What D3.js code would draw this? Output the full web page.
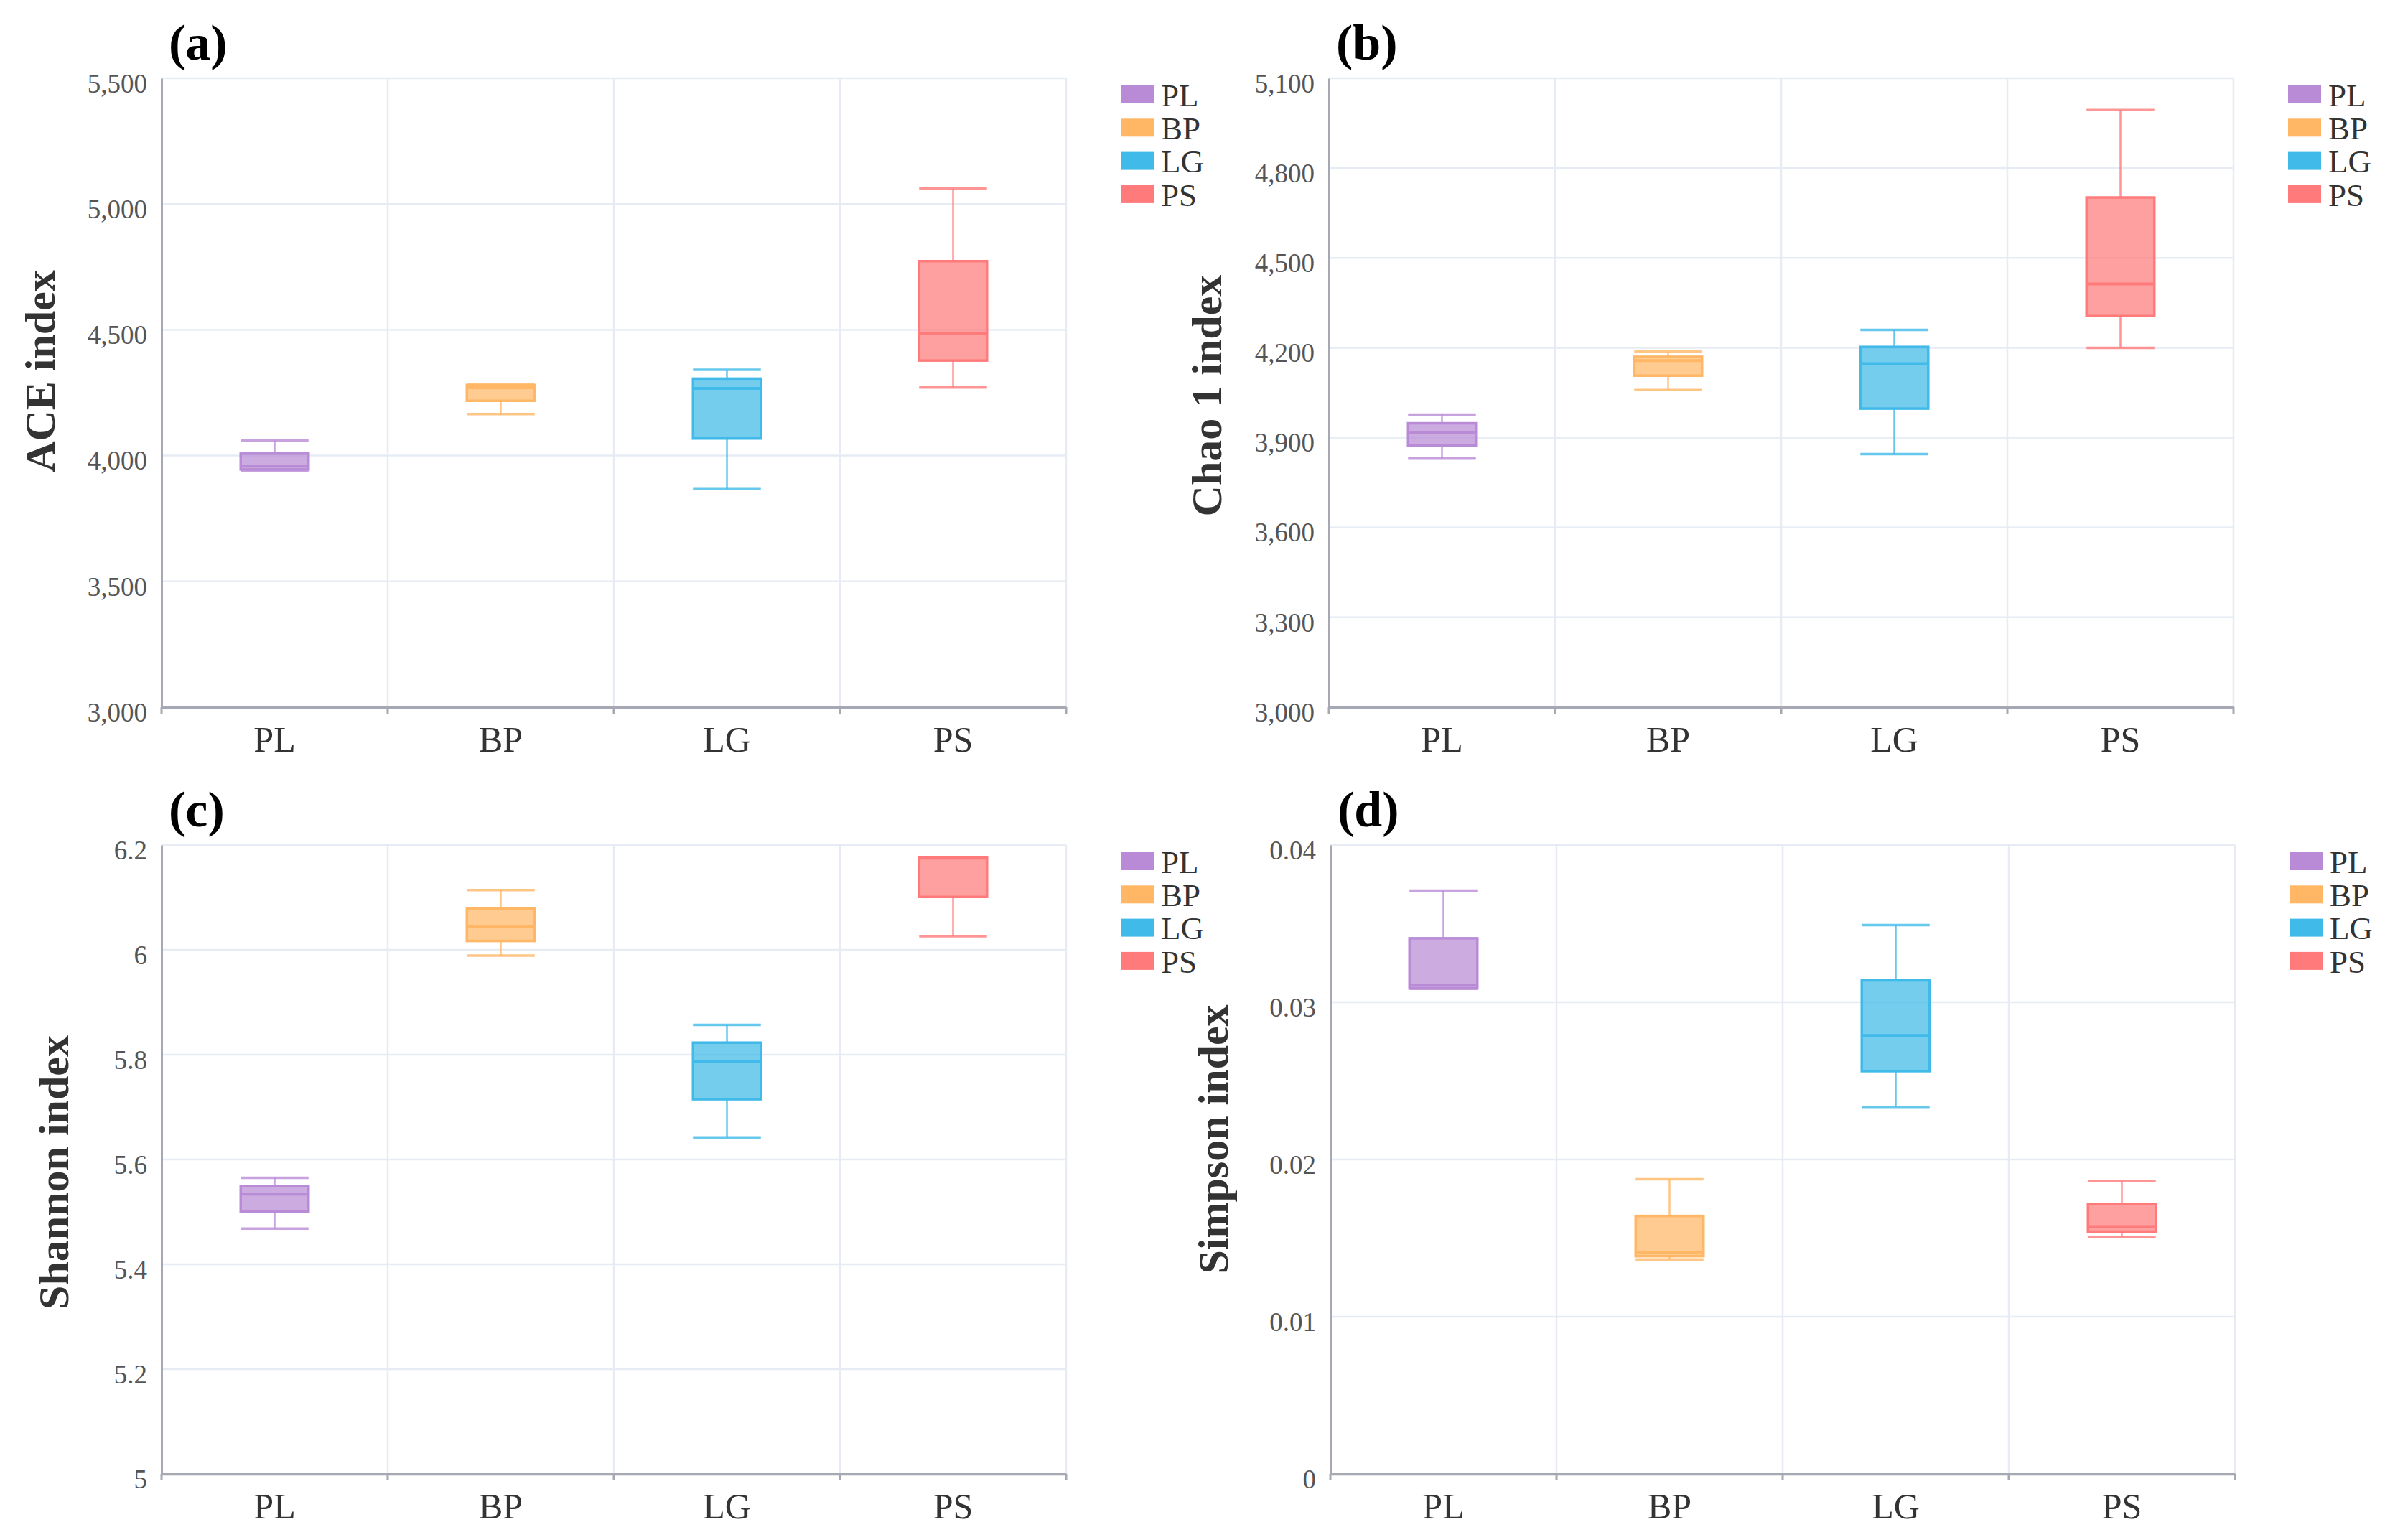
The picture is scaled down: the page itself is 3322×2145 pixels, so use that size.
<!DOCTYPE html>
<html>
<head>
<meta charset="utf-8">
<script src="https://cdn.jsdelivr.net/npm/d3@7"></script>
<style>
  html, body { margin: 0; padding: 0; background: #fff; }
  svg { display: block; }
  text { font-family: "Liberation Serif", "Times New Roman", serif; }
</style>
</head>
<body>
<div id="chart"></div>
<script>
(function () {
  'use strict';

  /* -----------------------------------------------------------
     Data — [min, q1, median, q3, max] per group
  ----------------------------------------------------------- */
  var groups = ["PL", "BP", "LG", "PS"];
  var groupColors = ["#b98bd6", "#ffb766", "#40bae8", "#ff7b7b"];

  var aceStats = [
    [3940, 3945, 3958, 4008, 4060],
    [4165, 4218, 4270, 4280, 4282],
    [3867, 4068, 4267, 4306, 4341],
    [4271, 4378, 4487, 4773, 5062]
  ];
  var chaoStats = [
    [3830, 3874, 3918, 3948, 3977],
    [4059, 4107, 4157, 4170, 4187],
    [3845, 3997, 4147, 4203, 4260],
    [4200, 4306, 4413, 4702, 4994]
  ];
  var shannonStats = [
    [5.468, 5.501, 5.534, 5.549, 5.565],
    [5.989, 6.017, 6.045, 6.079, 6.114],
    [5.642, 5.715, 5.787, 5.823, 5.857],
    [6.026, 6.101, 6.175, 6.177, 6.177]
  ];
  var simpsonStats = [
    [0.03086, 0.03089, 0.03108, 0.03407, 0.0371],
    [0.01364, 0.01385, 0.0141, 0.01641, 0.01875],
    [0.02334, 0.02562, 0.02789, 0.03139, 0.03491],
    [0.01507, 0.01541, 0.01573, 0.01716, 0.01863]
  ];

  var aceTicks     = [3000, 3500, 4000, 4500, 5000, 5500];
  var chaoTicks    = [3000, 3300, 3600, 3900, 4200, 4500, 4800, 5100];
  var shannonTicks = [5, 5.2, 5.4, 5.6, 5.8, 6, 6.2];
  var simpsonTicks = [0, 0.01, 0.02, 0.03, 0.04];

  var panelLabels = ["(a)", "(b)", "(c)", "(d)"];
  var axisTitles  = ["ACE index", "Chao 1 index", "Shannon index", "Simpson index"];

  /* -----------------------------------------------------------
     Layout
  ----------------------------------------------------------- */
  var W = 3322, H = 2145;
  var fmtComma = d3.format(",");
  var fmtPlain = function (v) { return String(+v.toFixed(3)); };

  var panels = [
    { stats: aceStats,     ticks: aceTicks,     fmt: fmtComma, x0: 225,  y0: 109,  titleOff: 170, titleDy: -30 },
    { stats: chaoStats,    ticks: chaoTicks,    fmt: fmtComma, x0: 1851, y0: 109,  titleOff: 171, titleDy: 4 },
    { stats: shannonStats, ticks: shannonTicks, fmt: fmtPlain, x0: 225,  y0: 1177, titleOff: 151, titleDy: 18 },
    { stats: simpsonStats, ticks: simpsonTicks, fmt: fmtPlain, x0: 1853, y0: 1177, titleOff: 164, titleDy: -28 }
  ];
  var plotW = 1260, plotH = 876;

  var svg = d3.select('#chart').append('svg')
    .attr('width', W).attr('height', H)
    .attr('viewBox', '0 0 ' + W + ' ' + H);

  svg.append('rect').attr('width', W).attr('height', H).attr('fill', '#fff');

  panels.forEach(function (p, pi) {
    var g = svg.append('g').attr('transform', 'translate(' + p.x0 + ',' + p.y0 + ')');

    var x = d3.scaleBand().domain(groups).range([0, plotW]).padding(0);
    var y = d3.scaleLinear().domain(d3.extent(p.ticks)).range([plotH, 0]);
    var bw = x.bandwidth();
    var boxW = bw * 0.3;

    /* grid */
    g.append('g').selectAll('line.h')
      .data(p.ticks.slice(1))
      .join('line')
      .attr('x1', 0).attr('x2', plotW)
      .attr('y1', function (d) { return y(d); })
      .attr('y2', function (d) { return y(d); })
      .attr('stroke', '#e6ebf4').attr('stroke-width', 2.5);

    g.append('g').selectAll('line.v')
      .data(groups)
      .join('line')
      .attr('x1', function (d) { return x(d) + bw; })
      .attr('x2', function (d) { return x(d) + bw; })
      .attr('y1', 0).attr('y2', plotH)
      .attr('stroke', '#e6ebf4').attr('stroke-width', 2.5);

    /* y axis */
    var yAxis = g.append('g').call(
      d3.axisLeft(y).tickValues(p.ticks).tickSize(0).tickPadding(20).tickFormat(p.fmt)
    );
    yAxis.select('.domain').attr('stroke', '#a6a8b3').attr('stroke-width', 3);
    yAxis.selectAll('text')
      .attr('font-size', 37)
      .attr('fill', '#555')
      .attr('font-family', '"Liberation Serif", serif')
      .attr('dy', '0.52em');

    /* x axis */
    var xAxis = g.append('g').attr('transform', 'translate(0,' + plotH + ')')
      .call(d3.axisBottom(x).tickSize(0).tickPadding(26));
    xAxis.select('.domain').attr('stroke', '#a6a8b3').attr('stroke-width', 3.5);
    xAxis.selectAll('text')
      .attr('font-size', 50)
      .attr('fill', '#333')
      .attr('font-family', '"Liberation Serif", serif');

    xAxis.selectAll('line.edge')
      .data([0].concat(groups.map(function (d) { return x(d) + bw; })))
      .join('line')
      .attr('class', 'edge')
      .attr('x1', function (d) { return d; }).attr('x2', function (d) { return d; })
      .attr('y1', 0).attr('y2', 9)
      .attr('stroke', '#a6a8b3').attr('stroke-width', 3);

    /* boxes */
    var boxes = g.append('g').selectAll('g.box')
      .data(p.stats)
      .join('g')
      .attr('transform', function (d, i) { return 'translate(' + (x(groups[i]) + bw / 2) + ',0)'; });

    boxes.each(function (s, i) {
      var b = d3.select(this);
      var c = groupColors[i];

      // whiskers
      b.append('line')
        .attr('x1', 0).attr('x2', 0)
        .attr('y1', y(s[0])).attr('y2', y(s[1]))
        .attr('stroke', c).attr('stroke-width', 2.5).attr('stroke-opacity', 0.8);
      b.append('line')
        .attr('x1', 0).attr('x2', 0)
        .attr('y1', y(s[3])).attr('y2', y(s[4]))
        .attr('stroke', c).attr('stroke-width', 2.5).attr('stroke-opacity', 0.8);
      [s[0], s[4]].forEach(function (v) {
        b.append('line')
          .attr('x1', -boxW / 2).attr('x2', boxW / 2)
          .attr('y1', y(v)).attr('y2', y(v))
          .attr('stroke', c).attr('stroke-width', 3.5).attr('stroke-opacity', 0.8);
      });

      // box
      b.append('rect')
        .attr('x', -boxW / 2).attr('width', boxW)
        .attr('y', y(s[3])).attr('height', Math.max(1, y(s[1]) - y(s[3])))
        .attr('fill', c).attr('fill-opacity', 0.72)
        .attr('stroke', c).attr('stroke-width', 3.5);

      // median
      b.append('line')
        .attr('x1', -boxW / 2).attr('x2', boxW / 2)
        .attr('y1', y(s[2])).attr('y2', y(s[2]))
        .attr('stroke', c).attr('stroke-width', 4);
    });

    /* axis title */
    g.append('text')
      .attr('transform', 'translate(' + (-p.titleOff) + ',' + (plotH / 2 + p.titleDy) + ') rotate(-90)')
      .attr('text-anchor', 'middle')
      .attr('dy', '0.35em')
      .attr('font-size', 60)
      .attr('font-weight', 'bold')
      .attr('fill', '#333')
      .text(axisTitles[pi]);

    /* panel label */
    g.append('text')
      .attr('x', 10).attr('y', -26)
      .attr('font-size', 70)
      .attr('font-weight', 'bold')
      .attr('fill', '#000')
      .text(panelLabels[pi]);

    /* legend */
    var lg = g.append('g').attr('transform', 'translate(' + (plotW + 76) + ',10)');
    var items = lg.selectAll('g')
      .data(groups)
      .join('g')
      .attr('transform', function (d, i) { return 'translate(0,' + (i * 46.3) + ')'; });
    items.append('rect')
      .attr('width', 46).attr('height', 25)
      .attr('fill', function (d, i) { return groupColors[i]; });
    items.append('text')
      .attr('x', 56).attr('y', 12.5).attr('dy', '0.36em')
      .attr('font-size', 45)
      .attr('fill', '#333')
      .text(function (d) { return d; });
  });
})();
</script>
</body>
</html>
